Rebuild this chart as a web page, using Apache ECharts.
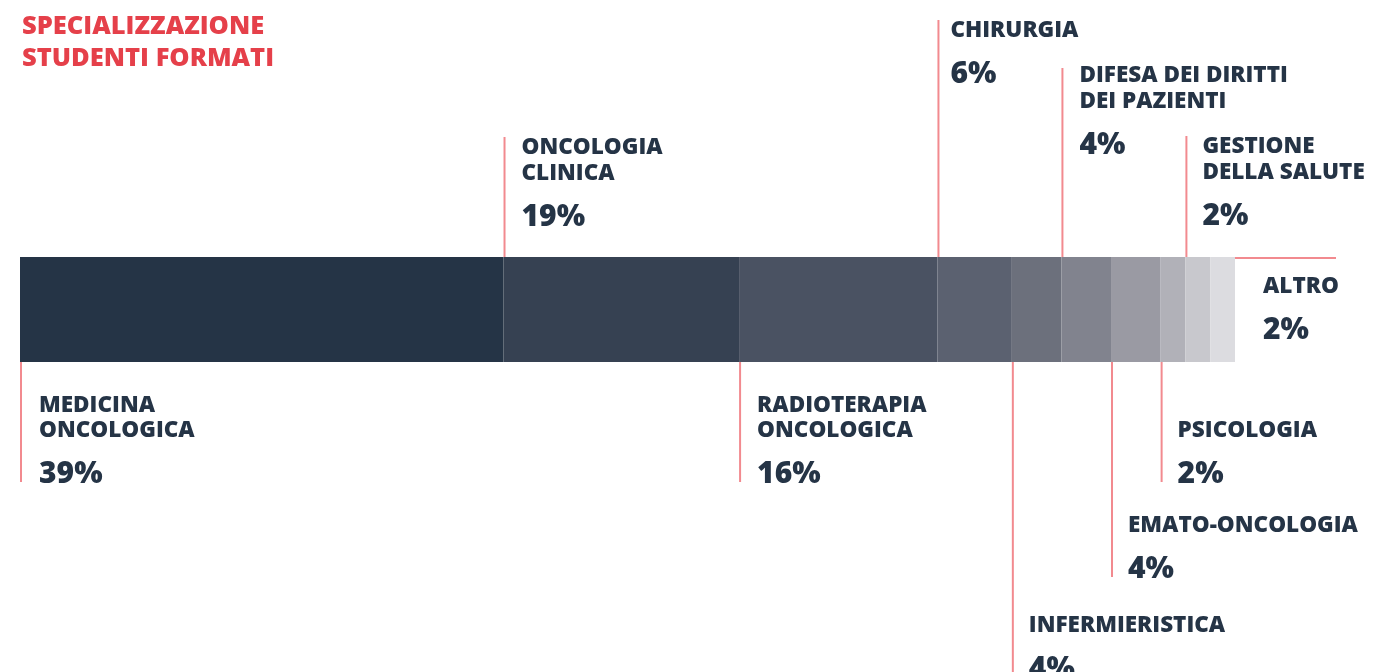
<!DOCTYPE html>
<html>
<head>
<meta charset="utf-8">
<script src="https://cdn.jsdelivr.net/npm/echarts@6/dist/echarts.min.js"></script>
<style>
    html, body { margin: 0; padding: 0; background: #fff; }
    #chart { width: 1373px; height: 672px; }
</style>
</head>
<body>
<div id="chart"></div>
<script>
let names = ['MEDICINA\nONCOLOGICA', 'ONCOLOGIA\nCLINICA', 'RADIOTERAPIA\nONCOLOGICA', 'CHIRURGIA', 'INFERMIERISTICA',
    'DIFESA DEI DIRITTI\nDEI PAZIENTI', 'EMATO-ONCOLOGIA', 'PSICOLOGIA', 'GESTIONE\nDELLA SALUTE', 'ALTRO'];
let shares = [39, 19, 16, 6, 4, 4, 4, 2, 2, 2];
let colors = ['#253446', '#364152', '#4a5262', '#5b6170', '#6c707c', '#81838e', '#9a9aa3', '#b1b1b8', '#c8c8cd', '#dcdce0'];

// label layout (pixels): which side the leader goes, its length, gap to text, extra text shift
let sides = ['bottom', 'top', 'bottom', 'top', 'bottom', 'top', 'bottom', 'bottom', 'top', 'right'];
let leaders = [120, 120, 120, 237, 315, 189, 215, 120, 121, 101];
let textGap = [18, 17, 17, 12, 16, 17, 16, 16, 16, 28];
let textDy = [0, 0, 0, 0, 0, -3, 0, 0, 0, 0];

let ink = '#253446';
let leaderColor = '#f28a8f';
let font = 'Open Sans';
let weight = 800;

// ----------------------------------------------------
let starts = [];
let acc = 0;
for (let i = 0; i < shares.length; i++) {
    starts.push([acc, shares[i], i, 0]);
    acc += shares[i];
}

function renderNote(params, api) {
    let i = api.value(2);
    let p = api.coord([api.value(0), 0]);
    let band = api.size([0, 1])[1];
    let top = p[1] - band / 2, bottom = p[1] + band / 2;
    let x = p[0] + 1;
    let tx = x + textGap[i];
    let lines = names[i].split('\n');
    let kids = [];
    let y0;
    if (sides[i] === 'top') {
        let y1 = top - leaders[i];
        kids.push({ type: 'line', shape: { x1: x, y1: y1, x2: x, y2: top }, style: { stroke: leaderColor, lineWidth: 2 } });
        y0 = y1 + 9;
    } else if (sides[i] === 'bottom') {
        let y2 = bottom + leaders[i];
        kids.push({ type: 'line', shape: { x1: x, y1: bottom, x2: x, y2: y2 }, style: { stroke: leaderColor, lineWidth: 2 } });
        y0 = y2 - 10 - 43 - (lines.length - 1) * 25.5;
    } else {
        let end = api.coord([api.value(0) + api.value(1), 0])[0];
        kids.push({ type: 'line', shape: { x1: end, y1: top + 1, x2: end + leaders[i], y2: top + 1 }, style: { stroke: leaderColor, lineWidth: 2 } });
        tx = end + textGap[i];
        y0 = top + 28;
    }
    // text middle sits ~2px above cap centre, so nudge down
    y0 += 2 + textDy[i];
    lines.forEach(function (t, k) {
        kids.push({
            type: 'text',
            style: { text: t, x: tx, y: y0 + k * 25.5, fill: ink, fontFamily: font, fontWeight: weight, fontSize: 22.5, verticalAlign: 'middle' }
        });
    });
    kids.push({
        type: 'text',
        style: { text: api.value(1) + '%', x: tx, y: y0 + (lines.length - 1) * 25.5 + 43.5, fill: ink, fontFamily: font, fontWeight: weight, fontSize: 30, verticalAlign: 'middle' }
    });
    return { type: 'group', children: kids };
}

let series = [];
for (let i = 0; i < shares.length; i++) {
    series.push({
        type: 'bar',
        name: names[i],
        stack: 'all',
        barWidth: '100%',
        silent: true,
        itemStyle: { color: colors[i] },
        data: [shares[i]]
    });
}
series.push({
    type: 'custom',
    silent: true,
    renderItem: renderNote,
    encode: { x: 0, y: 3 },
    data: starts,
    z: 3
});

let chart = echarts.init(document.getElementById('chart'));
let option = {
    animation: false,
    title: {
        text: 'SPECIALIZZAZIONE\nSTUDENTI FORMATI',
        left: 22,
        top: 11,
        padding: 0,
        textStyle: { color: '#e5404a', fontFamily: font, fontWeight: weight, fontSize: 25.5, lineHeight: 32 }
    },
    grid: { left: 20, right: 138, top: 257, height: 105 },
    xAxis: { type: 'value', min: 0, max: 98, show: false },
    yAxis: { type: 'category', data: [''], show: false },
    series: series
};
chart.setOption(option);
</script>
</body>
</html>
